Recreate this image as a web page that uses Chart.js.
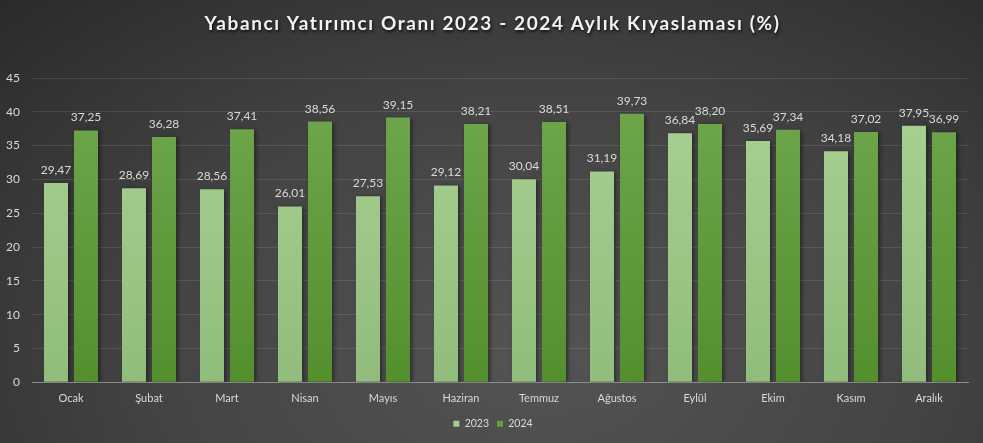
<!DOCTYPE html>
<html>
<head>
<meta charset="utf-8">
<script src="https://cdn.jsdelivr.net/npm/chart.js@4.4.1/dist/chart.umd.min.js"></script>
<style>
  html, body { margin: 0; padding: 0; }
  body {
    width: 983px; height: 443px; overflow: hidden;
    background: radial-gradient(ellipse farthest-corner at 55% 80%, #545454 0%, #444444 50%, #2a2a2a 100%);
  }
  #wrap { width: 983px; height: 443px; position: relative; }
</style>
</head>
<body>
<div id="wrap"><canvas id="chart" width="983" height="443"></canvas></div>
<script>
const months = ["Ocak", "Şubat", "Mart", "Nisan", "Mayıs", "Haziran", "Temmuz", "Ağustos", "Eylül", "Ekim", "Kasım", "Aralık"];
const values2023 = [29.47, 28.69, 28.56, 26.01, 27.53, 29.12, 30.04, 31.19, 36.84, 35.69, 34.18, 37.95];
const values2024 = [37.25, 36.28, 37.41, 38.56, 39.15, 38.21, 38.51, 39.73, 38.20, 37.34, 37.02, 36.99];
const titleText = "Yabancı Yatırımcı Oranı 2023 - 2024 Aylık Kıyaslaması (%)";

const FONT = "Lato, 'Open Sans', sans-serif";

function grad(ctx, top, bottom) {
  const area = ctx.chart.chartArea;
  if (!area) return bottom;
  const g = ctx.chart.ctx.createLinearGradient(0, area.top, 0, area.bottom);
  g.addColorStop(0, top);
  g.addColorStop(1, bottom);
  return g;
}

// title drawn with letter spacing + shadow
const titlePlugin = {
  id: "titlePlugin",
  afterDraw(chart) {
    const c = chart.ctx;
    c.save();
    c.font = "bold 19px " + FONT;
    c.letterSpacing = "1.6px";
    c.fillStyle = "#f2f2f2";
    c.textAlign = "center";
    c.textBaseline = "middle";
    c.shadowColor = "rgba(0,0,0,0.7)";
    c.shadowOffsetX = 1;
    c.shadowOffsetY = 2;
    c.shadowBlur = 3;
    c.fillText(titleText, chart.width / 2 + 1, 24);
    c.restore();
  }
};

// bar shadows
const shadowPlugin = {
  id: "shadowPlugin",
  afterLayout(chart) {
    // centre legend under the whole canvas rather than the padded box
    chart.legend.left += 6;
    chart.legend.right += 6;
  },
  beforeDatasetsDraw(chart) {
    const c = chart.ctx;
    c.save();
    c.shadowColor = "rgba(0,0,0,0.45)";
    c.shadowOffsetX = 2;
    c.shadowOffsetY = 1;
    c.shadowBlur = 4;
  },
  afterDatasetsDraw(chart) {
    chart.ctx.restore();
  }
};

// value labels above bars
const labelPlugin = {
  id: "labelPlugin",
  afterDatasetsDraw(chart) {
    const c = chart.ctx;
    c.save();
    c.font = "12px " + FONT;
    c.fillStyle = "#d9d9d9";
    c.textAlign = "center";
    c.textBaseline = "alphabetic";
    chart.data.datasets.forEach((ds, i) => {
      chart.getDatasetMeta(i).data.forEach((bar, j) => {
        const txt = ds.data[j].toFixed(2).replace(".", ",");
        c.fillText(txt, bar.x, bar.y - 9);
      });
    });
    c.restore();
  }
};

new Chart(document.getElementById("chart"), {
  type: "bar",
  data: {
    labels: months,
    datasets: [
      {
        label: "2023",
        data: values2023,
        backgroundColor: ctx => grad(ctx, "#aad294", "#90bd7c"),
        borderWidth: 0
      },
      {
        label: "2024",
        data: values2024,
        backgroundColor: ctx => grad(ctx, "#70a84f", "#548f2e"),
        borderWidth: 0
      }
    ]
  },
  options: {
    responsive: false,
    animation: false,
    devicePixelRatio: 1,
    layout: { padding: { top: 78, left: 6, right: 15, bottom: 4 } },
    datasets: { bar: { categoryPercentage: 0.77, barPercentage: 0.8 } },
    plugins: {
      title: { display: false },
      tooltip: { enabled: false },
      legend: {
        position: "bottom",
        labels: {
          color: "#d9d9d9",
          font: { family: FONT, size: 10.5 },
          boxWidth: 6,
          boxHeight: 6,
          padding: 8,
          generateLabels(chart) {
            const cols = ["#a4cd8d", "#62a040"];
            return chart.data.datasets.map((ds, i) => ({
              text: ds.label,
              fillStyle: cols[i],
              strokeStyle: cols[i],
              lineWidth: 0,
              fontColor: "#d9d9d9",
              datasetIndex: i
            }));
          }
        }
      }
    },
    scales: {
      x: {
        grid: { display: false, drawTicks: false },
        border: { color: "#8c8c8c", width: 1 },
        afterFit(scale) { scale.height -= 5; },
        ticks: { color: "#d9d9d9", font: { family: FONT, size: 11 }, padding: 10 }
      },
      y: {
        min: 0,
        max: 45,
        afterFit(scale) { scale.width = 26; },
        ticks: { stepSize: 5, color: "#d9d9d9", font: { family: FONT, size: 12 }, padding: 12 },
        grid: { color: "rgba(255,255,255,0.1)", drawTicks: false },
        border: { display: false }
      }
    }
  },
  plugins: [shadowPlugin, labelPlugin, titlePlugin]
});
</script>
</body>
</html>
